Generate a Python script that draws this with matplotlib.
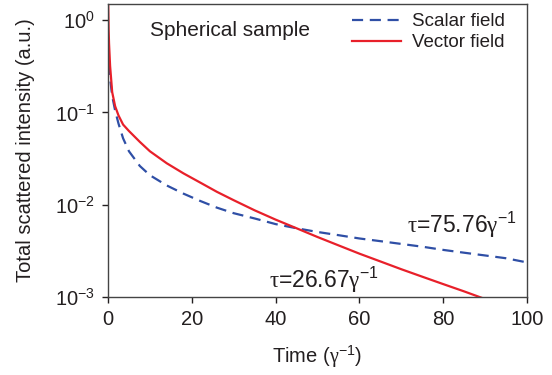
import matplotlib
matplotlib.use("Agg")
import matplotlib.pyplot as plt
from matplotlib.ticker import NullLocator, FixedLocator

plt.rcParams['font.family'] = ['Liberation Sans', 'DejaVu Sans']
plt.rcParams['mathtext.fontset'] = 'custom'
plt.rcParams['mathtext.rm'] = 'Liberation Sans'
plt.rcParams['mathtext.it'] = 'Liberation Sans:italic'
plt.rcParams['mathtext.cal'] = 'Liberation Serif'
plt.rcParams['mathtext.default'] = 'regular'

# Data
time = [0, 0.15, 0.25, 0.5, 1, 1.7, 2.5, 3.6, 5, 7.6, 10, 14, 18, 22, 26, 30, 35,
        40, 45, 50, 55, 60, 65, 70, 75, 80, 85, 90, 95, 100]
scalar = [0.525, 0.355, 0.30, 0.234, 0.151, 0.105, 0.076, 0.0525, 0.038, 0.0263,
          0.0209, 0.0162, 0.0132, 0.0110, 0.0093, 0.0081, 0.0071, 0.00617, 0.00556,
          0.00507, 0.00468, 0.00431, 0.00403, 0.00376, 0.00351, 0.00324, 0.00302,
          0.00282, 0.00263, 0.00237]
vector = [2.0, 0.79, 0.56, 0.32, 0.166, 0.117, 0.093, 0.074, 0.063, 0.048, 0.038,
          0.0282, 0.0219, 0.0174, 0.0138, 0.0112, 0.0087, 0.0069, 0.00556, 0.00447,
          0.00363, 0.00295, 0.00243, 0.0020, 0.00166, 0.00138, 0.00115, 0.00095,
          0.00079, 0.00066]
xticks = [0, 20, 40, 60, 80, 100]
yticks = [1e-3, 1e-2, 1e-1, 1e0]
ytick_labels = [r'$10^{-3}$', r'$10^{-2}$', r'$10^{-1}$', r'$10^{0}$']

txt = '#231f20'
fs = 14.5
fig = plt.figure(figsize=(5.52, 3.75), dpi=100)
ax = fig.add_axes([108/552, 1-297/375, (527-108)/552, (297-4)/375])

ax.plot(time, scalar, color='#2f4fa6', lw=1.6, dashes=(5, 3), label='Scalar field')
ax.plot(time, vector, color='#e8202a', lw=1.6, label='Vector field')
ax.set_yscale('log')
ax.set_xlim(0, 100)
ax.set_ylim(1e-3, 1.5)
ax.set_xticks(xticks)
ax.set_xticklabels([str(v) for v in xticks])
ax.yaxis.set_major_locator(FixedLocator(yticks))
ax.set_yticklabels(ytick_labels)
ax.yaxis.set_minor_locator(NullLocator())
ax.tick_params(direction='out', length=4.5, width=1, colors=txt, labelsize=fs, pad=5)
for s in ax.spines.values():
    s.set_color('#444444')
    s.set_linewidth(1)

ax.set_xlabel('Time ($\\mathcal{γ}^{-1}$)', fontsize=fs, color=txt, labelpad=10)
ax.set_ylabel('Total scattered intensity (a.u.)', fontsize=fs, color=txt, labelpad=14)

ax.text(0.1, 0.91, 'Spherical sample', transform=ax.transAxes, fontsize=fs + 0.5,
        color=txt, va='center', ha='left')
ax.text(0.975, 0.245, '$\\mathcal{τ}$=75.76$\\mathcal{γ}^{-1}$', transform=ax.transAxes,
        fontsize=16.5, color=txt, ha='right', va='center')
ax.text(0.385, 0.06, '$\\mathcal{τ}$=26.67$\\mathcal{γ}^{-1}$', transform=ax.transAxes,
        fontsize=16.5, color=txt, ha='left', va='center')

leg = ax.legend(loc='upper right', frameon=False, fontsize=13.5, handlelength=2.6,
                handletextpad=0.6, labelspacing=0.2, borderaxespad=0.1,
                bbox_to_anchor=(0.97, 1.0))
for t in leg.get_texts():
    t.set_color(txt)

fig.savefig('out.png', dpi=100)
